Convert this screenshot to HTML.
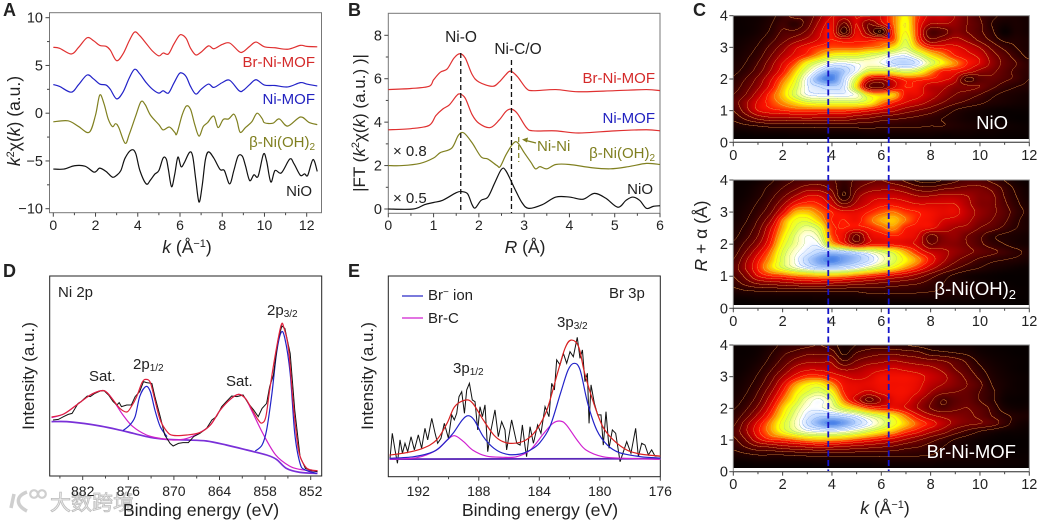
<!DOCTYPE html>
<html><head><meta charset="utf-8"><title>XAFS and XPS characterization figure</title>
<style>
html,body{margin:0;padding:0;background:#fff;width:1039px;height:521px;overflow:hidden}
#stage{position:relative;width:1039px;height:521px;overflow:hidden}
canvas{position:absolute;display:block}
svg{position:absolute;left:0;top:0}
text{font-family:"Liberation Sans","Noto Sans CJK SC",sans-serif;fill:#222}
</style></head>
<body>
<div id="stage">
<canvas id="map-nio" style="left:733px;top:16px;width:296px;height:123px"></canvas>
<canvas id="map-beta" style="left:733px;top:180px;width:296px;height:125px"></canvas>
<canvas id="map-br" style="left:733px;top:345px;width:296px;height:123px"></canvas>
<svg id="chart" width="1039" height="521" viewBox="0 0 1039 521">
<!-- Watermark (under the axes text) -->
<g>
<path d="M14 494 L11 508 M27 492 C16 496 15 505 27 511" fill="none" stroke="#cfcfcf" stroke-width="3.5"/>
<circle cx="34" cy="494" r="3.8" fill="none" stroke="#cfcfcf" stroke-width="2.2"/>
<circle cx="42" cy="494" r="3.8" fill="none" stroke="#cfcfcf" stroke-width="2.2"/>
<text x="50" y="510" font-size="21" stroke="#bdbdbd" stroke-width="0.8" style="fill:#ececec">大数跨境</text>
</g>
<g id="layer"></g>

<g>
<text x="3" y="16" font-size="18" font-weight="bold">A</text>
<text x="348" y="16" font-size="18" font-weight="bold">B</text>
<text x="693" y="16" font-size="18" font-weight="bold">C</text>
<text x="3" y="277" font-size="18" font-weight="bold">D</text>
<text x="348" y="277" font-size="18" font-weight="bold">E</text>
</g>

<!-- Panel A labels -->
<text x="315" y="67" font-size="15" text-anchor="end" style="fill:#d42a2a">Br-Ni-MOF</text>
<text x="315" y="104" font-size="15" text-anchor="end" style="fill:#2222c0">Ni-MOF</text>
<text x="315" y="147" font-size="15" text-anchor="end" style="fill:#7f7f20">β-Ni(OH)<tspan dy="3" font-size="10" style="fill:#7f7f20">2</tspan></text>
<text x="312" y="196" font-size="15" text-anchor="end">NiO</text>
<text x="187" y="253" font-size="17.5" text-anchor="middle"><tspan font-style="italic">k</tspan> (Å<tspan dy="-6" font-size="11">−1</tspan><tspan dy="6">)</tspan></text>
<text transform="translate(20,121) rotate(-90)" font-size="17.5" text-anchor="middle"><tspan font-style="italic">k</tspan><tspan dy="-6" font-size="11">2</tspan><tspan dy="6">χ(</tspan><tspan font-style="italic">k</tspan>) (a.u.)</text>

<!-- Panel B labels -->
<text x="461" y="42" font-size="15.5" text-anchor="middle">Ni-O</text>
<text x="518" y="54" font-size="15.5" text-anchor="middle">Ni-C/O</text>
<text x="655" y="83" font-size="15" text-anchor="end" style="fill:#d42a2a">Br-Ni-MOF</text>
<text x="655" y="123" font-size="15" text-anchor="end" style="fill:#2222c0">Ni-MOF</text>
<text x="655" y="158" font-size="15" text-anchor="end" style="fill:#7f7f20">β-Ni(OH)<tspan dy="3" font-size="10" style="fill:#7f7f20">2</tspan></text>
<text x="653" y="194" font-size="15" text-anchor="end">NiO</text>
<text x="393" y="156" font-size="15">× 0.8</text>
<text x="393" y="203" font-size="15">× 0.5</text>
<text x="537" y="151" font-size="15" style="fill:#7f7f20">Ni-Ni</text>
<line x1="536" y1="143" x2="524" y2="140" stroke="#7f7f20" stroke-width="1.2"/>
<path d="M522 139.5 L528 137.5 L527 142.5 Z" fill="#7f7f20"/>
<text x="525" y="253" font-size="17.5" text-anchor="middle"><tspan font-style="italic">R</tspan> (Å)</text>
<text transform="translate(365,123) rotate(-90)" font-size="17" text-anchor="middle">|FT (<tspan font-style="italic">k</tspan><tspan dy="-6" font-size="11">2</tspan><tspan dy="6">χ(</tspan><tspan font-style="italic">k</tspan>) (a.u.) )|</text>

<!-- Panel C labels -->
<text x="1008" y="129" font-size="18.5" text-anchor="end" style="fill:#fff">NiO</text>
<text x="1016" y="295" font-size="18.5" text-anchor="end" style="fill:#fff">β-Ni(OH)<tspan dy="4" font-size="13" style="fill:#fff">2</tspan></text>
<text x="1016" y="458" font-size="18.5" text-anchor="end" style="fill:#fff">Br-Ni-MOF</text>
<text x="885" y="514" font-size="17.5" text-anchor="middle"><tspan font-style="italic">k</tspan> (Å<tspan dy="-6" font-size="11">−1</tspan><tspan dy="6">)</tspan></text>
<text transform="translate(707,236) rotate(-90)" font-size="17.5" text-anchor="middle"><tspan font-style="italic">R</tspan> + α (Å)</text>

<!-- Panel D labels -->
<text x="58" y="297" font-size="15">Ni 2p</text>
<text x="267" y="315" font-size="15">2p<tspan dy="2" font-size="10">3/2</tspan></text>
<text x="133" y="369" font-size="15">2p<tspan dy="2" font-size="10">1/2</tspan></text>
<text x="89" y="381" font-size="15">Sat.</text>
<text x="226" y="386" font-size="15">Sat.</text>
<text x="201" y="516" font-size="17.7" text-anchor="middle">Binding energy (eV)</text>
<text transform="translate(34,376) rotate(-90)" font-size="17" text-anchor="middle">Intensity (a.u.)</text>

<!-- Panel E labels -->
<line x1="402" y1="296" x2="423" y2="296" stroke="#2a2ac8" stroke-width="1.2"/>
<text x="428" y="300" font-size="15">Br<tspan dy="-5" font-size="10">−</tspan><tspan dy="5"> ion</tspan></text>
<line x1="402" y1="318" x2="423" y2="318" stroke="#d020d0" stroke-width="1.2"/>
<text x="428" y="323" font-size="15">Br-C</text>
<text x="609" y="298" font-size="15">Br 3p</text>
<text x="557" y="327" font-size="15">3p<tspan dy="2" font-size="10">3/2</tspan></text>
<text x="453" y="373" font-size="15">3p<tspan dy="2" font-size="10">1/2</tspan></text>
<text x="540" y="516" font-size="17.7" text-anchor="middle">Binding energy (eV)</text>
<text transform="translate(373,376) rotate(-90)" font-size="17" text-anchor="middle">Intensity (a.u.)</text>
</svg>
</div>

<script>
/* ===== Panel A: k^2 chi(k) ===== */
const aKnotsMof = [0,.3,.85,1.2,1.6,1.9,2.2,2.5,2.7,3,3.3,3.6,3.85,4.1,4.4,4.7,5,5.2,5.45,5.7,5.95,6.1,6.3,6.5,6.75,7,7.35,7.6,8,8.35,8.8,9,9.3,9.6,10,10.5,11.1,11.7,12,12.5];
const aBrNiMof = [6.9,6.8,6.2,6.9,7.9,7.6,7.1,7,6.6,5.5,6.2,7.6,8.5,8.1,7.3,6.5,6,6.3,6.2,7.2,8.1,8.2,7.8,6.8,6.1,6.4,7.05,6.75,7.2,7.35,6.45,6.45,7,7.45,6.95,6.85,6.7,7.1,7,6.95];
const aNiMof = [3,2.8,2.2,3,4,3.6,3.05,2.95,2.5,1.5,2.2,3.7,4.6,4.1,3.2,2.5,2.1,2.35,2.1,3.1,4.1,4.2,3.8,2.8,2,2.5,3.05,2.7,3.2,3.45,2.35,2.4,3,3.5,2.95,2.9,2.75,3.2,3.05,2.85];
const aBetaK = [0,.7,1.2,1.7,2,2.2,2.4,2.6,2.8,2.95,3.1,3.4,3.6,3.9,4.15,4.35,4.6,5,5.2,5.5,5.75,5.85,6.1,6.3,6.5,6.7,6.9,7.1,7.3,7.6,7.8,8.05,8.3,8.55,8.7,8.85,9.1,9.4,9.65,9.9,10,10.4,10.7,11.1,11.7,12.1,12.5];
const aBeta = [-.9,-.8,-1.4,-2,-.2,1.9,1,-.6,-1.4,-1.1,-1.5,-3.15,-2.2,-.3,1.2,.9,-.2,-1.2,-1.75,-1.45,-2,-2.15,-.2,.75,.4,-1.2,-2.4,-1.4,-1,-.3,-1.5,-.65,-.6,-.1,-.8,-2,-1.5,-.9,0,-.6,-1,-1.05,-.6,-1.35,-.4,-.95,-1.2];
const aNioK = [0,.5,1,1.5,1.9,2.05,2.2,2.5,2.8,3,3.2,3.4,3.7,3.9,4.1,4.4,4.6,4.8,5,5.2,5.35,5.45,5.6,5.75,5.9,6.05,6.2,6.45,6.6,6.75,6.9,7.05,7.2,7.35,7.6,7.9,8.1,8.35,8.55,8.75,8.95,9.1,9.3,9.5,9.7,9.95,10.1,10.3,10.5,10.8,11.2,11.4,11.7,11.9,12.05,12.3,12.5];
const aNio = [-5.85,-5.85,-5.5,-5.55,-6.15,-6.05,-5.75,-6.1,-6.7,-6.5,-6,-4.7,-3.85,-4.2,-6,-7.4,-7,-6.4,-6,-4.7,-4.8,-5.9,-7.7,-6.4,-4.6,-5.6,-5.2,-4.1,-4.5,-7,-9.3,-7.6,-4.9,-4.05,-4.7,-5.9,-6,-7.4,-6,-4.5,-4.5,-5.5,-7.05,-6.45,-6.6,-4.3,-5,-7.2,-6,-6.25,-4.8,-5.3,-6.5,-6.35,-6.5,-4.85,-6.1];
const aXTicks = [0,2,4,6,8,10,12];
const aXMinor = [1,3,5,7,9,11];
const aYTicks = [-10,-5,0,5,10];
const aYTickLabels = ['−10','−5','0','5','10'];
const aYMinor = [-7.5,-2.5,2.5,7.5];

/* ===== Panel B: |FT| ===== */
const bBrR = [0,.5,.9,1,1.15,1.3,1.45,1.58,1.7,1.85,2,2.3,2.45,2.6,2.7,2.85,3.05,3.2,3.7,4.2,5,5.7,6];
const bBr = [5.5,5.55,5.65,5.95,6.3,6.45,6.95,7.15,6.95,6.2,5.85,5.65,5.85,6.2,6.35,6.1,5.55,5.45,5.5,5.4,5.45,5.5,5.45];
const bMofR = [0,.5,.9,1.05,1.2,1.35,1.5,1.58,1.7,1.85,2,2.25,2.45,2.6,2.72,2.85,3.05,3.2,3.7,4.2,5,5.7,6];
const bMof = [3.65,3.7,3.85,4.3,4.6,4.8,5.2,5.3,5.1,4.35,3.95,3.75,4.1,4.5,4.6,4.4,3.75,3.6,3.6,3.5,3.6,3.65,3.6];
const bBetaR = [0,.3,.7,1,1.15,1.4,1.55,1.67,1.85,2.05,2.2,2.4,2.47,2.6,2.75,2.85,3,3.15,3.25,3.35,3.5,3.7,4,4.5,4.9,5.3,5.7,6];
const bBeta = [2,2,2.1,2.35,2.6,2.8,3.4,3.5,3.05,2.4,2.3,2,1.95,2.5,3,3.07,2.6,2.15,1.85,1.95,1.85,2.05,2.05,1.9,1.85,1.95,2.1,2.05];
const bNioR = [0,.55,.8,1,1.2,1.5,1.62,1.75,1.85,1.92,2.05,2.2,2.35,2.5,2.6,2.8,2.95,3.1,3.4,3.7,4,4.3,4.55,4.8,5.07,5.25,5.4,5.55,5.7,5.85,6];
const bNio = [0,0,.2,.3,.4,.75,.8,.7,.2,.05,.4,.55,1.2,1.83,1.75,.9,.3,.03,.2,.55,.55,.45,.72,.5,.08,.4,.55,.4,.03,.12,.15];
const bXTicks = [0,1,2,3,4,5,6];
const bXMinor = [.5,1.5,2.5,3.5,4.5,5.5];
const bYTicks = [0,2,4,6,8];
const bYMinor = [1,3,5,7];

/* ===== Panel C: wavelet intensity, rows R = 4 → 0 (step .25), columns k = 0 → 12 (step .5) ===== */
const nioMap = [
[3,4,5,9,16,22,22,34,44,40,44,44,44,56,66,52,42,42,36,28,20,14,10,8,6],
[3,4,6,11,18,14,24,38,46,26,44,28,40,55,68,50,36,36,34,28,22,12,6,8,6],
[3,4,7,13,21,22,30,42,48,16,46,30,12,52,68,50,22,24,32,28,22,14,3,8,6],
[4,6,10,17,25,32,38,45,50,46,49,48,50,54,72,52,30,34,38,34,26,18,10,10,8],
[5,8,13,22,32,42,48,52,54,54,54,56,58,66,76,62,50,48,46,42,36,26,18,12,8],
[6,10,16,27,38,46,52,60,68,70,70,74,78,84,86,78,66,58,50,46,42,32,24,16,10],
[8,12,20,32,44,54,68,78,85,86,84,82,84,90,92,88,76,66,58,50,44,34,26,20,14],
[10,15,24,36,48,62,78,90,96,93,85,72,70,72,76,72,60,50,48,42,34,30,24,18,14],
[13,20,30,42,55,68,86,97,100,90,72,44,38,46,52,52,50,46,40,18,24,26,22,18,12],
[16,24,34,46,60,72,86,90,92,88,66,30,26,42,50,48,40,38,32,30,28,22,16,12,10],
[20,28,40,52,62,74,84,86,86,86,82,66,62,62,48,46,40,34,28,24,20,14,10,8,6],
[24,34,45,52,58,64,70,72,72,72,72,68,58,50,44,40,34,28,22,18,14,10,8,6,5],
[20,32,44,48,50,52,52,52,52,52,50,46,42,38,32,28,24,18,12,8,6,4,3,3,3],
[14,22,30,34,34,35,36,35,34,34,30,28,24,22,20,18,15,12,9,6,5,4,3,2,2],
[8,10,12,14,14,14,14,15,15,15,15,15,14,14,13,13,12,12,10,8,7,6,5,4,3],
[3,3,4,4,4,5,5,5,5,5,5,6,6,6,6,6,6,5,5,5,4,4,3,3,3],
[1,1,1,1,1,1,1,1,1,1,1,1,1,1,1,1,1,1,1,1,1,1,1,1,1]];
const betaMap = [
[3,3,5,10,16,20,22,24,22,16,22,26,28,24,18,10,8,12,18,22,22,18,12,6,3],
[3,4,8,14,20,26,32,32,26,14,26,32,34,34,30,24,22,26,28,30,30,26,18,10,5],
[3,5,10,17,26,36,44,44,34,12,32,40,42,42,40,36,36,38,38,36,32,30,20,12,6],
[4,7,13,21,34,48,52,50,42,28,38,44,48,48,46,44,44,44,44,38,32,30,22,14,8],
[5,9,16,26,44,60,62,56,50,46,46,50,54,56,52,50,48,46,46,40,34,30,24,16,10],
[6,11,20,34,56,68,70,62,50,50,48,54,60,62,56,50,48,44,42,38,32,28,22,14,8],
[8,14,24,42,60,72,78,72,52,50,48,50,54,58,50,48,46,40,36,34,28,24,18,12,8],
[10,17,28,46,64,76,84,78,54,46,26,44,48,50,48,44,26,32,34,28,22,14,10,8,6],
[13,22,34,50,68,78,85,84,62,50,34,46,48,48,46,42,28,32,32,28,22,16,12,8,6],
[16,28,42,56,72,82,88,92,92,90,86,82,76,70,60,50,42,38,34,30,26,22,18,14,10],
[20,34,48,60,74,84,92,97,100,97,94,90,82,74,66,58,48,38,30,24,18,14,12,10,7],
[24,36,50,62,72,80,86,90,90,88,84,78,72,66,58,50,40,30,22,16,12,8,6,4,3],
[20,30,44,50,52,56,58,60,60,58,54,50,46,42,38,32,24,16,10,6,4,3,2,2,2],
[15,22,28,30,32,34,36,36,34,32,30,28,26,24,22,20,16,12,10,8,6,4,3,2,2],
[8,10,11,11,12,12,12,12,12,12,12,14,14,14,14,13,12,11,10,9,7,6,4,3,2],
[3,3,4,4,4,4,4,5,5,5,5,5,6,6,6,6,6,6,5,5,4,4,3,2,2],
[1,1,1,1,1,1,1,1,1,1,1,1,1,1,1,1,1,1,1,1,1,1,1,1,1]];
const brMap = [
[3,3,4,8,14,16,18,20,16,8,12,16,16,14,12,10,8,6,6,6,4,3,2,2,2],
[3,3,5,11,18,22,26,26,24,10,20,24,26,26,24,22,16,14,12,10,6,4,3,2,2],
[3,4,7,14,22,30,34,34,34,20,28,32,34,36,34,32,30,28,24,18,10,6,4,3,2],
[3,5,10,18,28,38,42,42,40,34,36,40,42,44,42,40,38,34,28,22,14,8,5,3,2],
[4,7,13,23,36,46,52,52,48,44,42,44,48,48,48,46,42,38,32,26,18,10,6,4,3],
[5,9,16,28,44,58,66,68,58,48,46,46,48,48,48,46,40,36,32,28,22,12,7,4,3],
[6,11,20,34,50,64,72,76,68,50,46,42,46,48,48,44,36,30,28,26,20,14,6,4,3],
[8,14,24,40,56,68,80,85,76,56,42,26,36,46,46,38,30,20,24,26,20,14,5,3,3],
[11,18,30,46,62,74,84,85,80,70,62,52,48,48,44,36,28,22,26,28,24,18,8,5,5],
[14,24,38,52,66,78,88,92,92,90,86,78,72,66,56,46,38,34,32,30,26,20,14,10,8],
[18,32,46,58,70,80,90,96,100,97,92,86,78,70,62,54,48,40,34,30,28,24,16,8,5],
[22,34,48,58,68,76,82,84,84,82,78,72,66,60,52,46,38,32,24,18,12,8,5,4,3],
[18,28,42,50,52,56,60,62,60,58,54,50,46,42,36,30,24,18,12,8,5,3,2,2,2],
[14,20,26,28,32,34,36,38,36,34,32,30,28,26,22,20,16,12,8,6,4,3,2,2,2],
[8,10,12,12,12,13,14,14,14,14,14,14,14,14,14,13,12,10,9,7,6,5,4,3,3],
[3,3,4,4,4,4,4,5,5,5,5,5,6,6,6,6,6,5,5,5,5,5,4,4,3],
[1,1,1,1,1,1,1,1,1,1,1,1,1,1,1,1,1,1,1,1,1,1,1,1,1]];
const cXTicks = [0,2,4,6,8,10,12];
const cXMinor = [1,3,5,7,9,11];
const cYTicks = [0,1,2,3,4];
const cDashK = [3.85,6.3];
const contourLevels = [12,20,28,36,44,50,56,60,64,68,72,76,80,84,87,90,93,96,98];

/* ===== Panel D: Ni 2p XPS ===== */
const dRawE = [885.9,885.2,884.5,883.9,883.4,883,882.6,882.2,881.9,881.4,881,880.4,879.7,879.2,878.6,878,877.5,877.2,876.9,876.2,875.6,875.1,874.5,874,873.6,872.9,872.5,871.8,871.2,870.5,870.1,869.4,868.8,868.1,867.4,866.6,865.7,865,864.4,863.7,863.1,862.4,861.7,860.9,860.2,859.5,858.9,858.4,857.8,857.4,856.9,856.3,855.8,855.4,854.7,854.1,853.4,852.7,851.9,851.1];
const dRaw = [28,28.3,29.7,30.8,31.3,33.8,36.3,37.2,38.3,40,39.7,41.3,42.5,42.7,40.5,37.2,35.5,36.7,34.7,35.5,35.5,39.7,42.2,47.2,46.7,46.3,39.7,29.7,20.5,16.3,15,16.3,16.7,16.7,19.7,21.3,23.8,28,29.7,34.7,37.2,40,39.7,40.5,36.3,33,29.7,33.8,36.3,44.7,50.5,68,75,73.8,61.3,33,9.7,3.8,2.7,2.2];
const dFitE = [886.1,884.5,882.8,881,879.5,878.8,878,877.1,876.2,875.6,874.9,874.2,873.7,873.1,872.5,871.8,870.9,870.1,868.3,866.6,865.2,863.9,862.6,861.5,860.6,859.8,858.9,858.4,857.9,857.4,856.7,855.9,855.5,854.9,854.3,853.6,852.7,851.9,851.1];
const dFit = [29.5,31,35.5,40.5,42.7,41.7,38,33.8,32,34.7,39.7,46.7,48.3,46.7,38,28,22.2,20.3,20.5,21.7,25.5,33,38.3,40.8,38.8,33.8,28,26.5,29.7,43,59.7,75.3,73.8,63,36.3,13,4.7,3,2.7];
const dSatE = [886.1,884.5,882.8,881,879.5,878.8,878,876.7,875.4,873.6,871.8,870.1,868.3,866.6,865.2,863.9,862.6,861.5,860.6,859.8,858.3,856.6,854.8,853.4,851.1];
const dSat = [29.2,31,35.5,40.5,42.7,41.7,38,30.5,24.7,20.5,18.8,18,18.8,21.7,25.5,33,38.3,40.8,38.8,33,21.3,10.5,5,3.3,2.2];
const dBgE = [886.1,884.1,881.9,879.7,877.5,875.3,873.1,870.9,868.3,865.7,863.1,860.4,857.8,856.5,855.2,853.4,851.1];
const dBg = [27.2,27.2,26.3,25,23.3,21.3,19.3,18.3,18,17.5,15.5,13,10.5,8.3,3.8,1.8,1.3];
const dPeak1E = [876.7,875.8,875.1,874.5,873.7,873.1,872.5,871.8,870.9];
const dPeak1 = [22.7,25.5,29.7,39.7,44.7,42.2,33,24.7,19.7];
const dPeak2E = [859.3,858.4,857.8,857.1,856.5,855.9,855.4,854.7,854.1,853.4,852.7,851.2];
const dPeak2 = [12.5,15.5,23,41.3,61.3,71.7,68.8,51.3,21.3,6.3,3,1.3];
const dXTicks = [882,876,870,864,858,852];
const dXMinor = [885,879,873,867,861,855];

/* ===== Panel E: Br 3p XPS ===== */
const eRawE = [193.87,193.72,193.54,193.38,193.21,193.05,192.88,192.7,192.48,192.26,192,191.78,191.56,191.38,191.11,190.89,190.72,190.5,190.28,190.01,189.79,189.62,189.46,189.31,189.13,188.95,188.8,188.62,188.43,188.25,188.07,187.92,187.76,187.59,187.41,187.19,186.93,186.71,186.49,186.27,186.16,185.83,185.49,185.27,185.12,184.94,184.84,184.61,184.39,184.11,183.89,183.62,183.36,183.18,183,182.85,182.63,182.41,182.19,181.97,181.75,181.49,181.31,181.15,180.98,180.82,180.71,180.58,180.36,180.14,179.92,179.77,179.59,179.39,179.17,178.95,178.66,178.22,177.94,177.63,177.45,177.23,177.01,176.79,176.57,176.35,176.02];
const eRaw = [9.2,21.7,13.4,6.7,18.4,11.7,16.7,12.5,20,13.4,20.9,14.2,24.2,18.4,29.2,21.7,16.7,19.2,26.7,19.2,30.9,28.4,31.7,40,42.5,31.7,43.4,46.7,38.4,37.5,23.4,35,30,35.9,12.5,23.4,33.4,20,27.5,23.4,13.4,28.4,16.7,15.8,25.9,15,10,25,16.7,25.9,21.7,35,30,46.7,43.4,58.4,55.9,61.7,56.7,62.5,60,69.7,59.2,63.4,47.5,51.7,26.7,45.9,36.7,30.9,30.9,15.8,32.5,14.2,23.4,21.7,7.5,17.5,11.7,24.2,10,16.7,15.8,10.9,13.4,10.3,10.3];
const eFitE = [193.9,192.8,191.7,190.8,190.1,189.6,188.9,188.4,187.7,187,186.4,185.7,184.9,184.2,183.5,182.8,182.3,181.9,181.4,181,180.4,179.8,179.1,178.2,177.3,176];
const eFit = [10.8,12,14.2,18.3,26.7,35,38.3,36.7,28.3,20.8,17.5,16.7,18.3,23.3,33.3,51.7,64.2,68.3,65,51.7,36.7,25,18.3,13.3,11.3,10.3];
const eIonE = [193.9,192.3,191,190.3,189.7,189.1,188.7,188.3,187.7,187,186.2,185.3,184.6,184,183.3,182.6,182.1,181.7,181.3,180.8,180.2,179.5,178.7,177.3,176];
const eIon = [9.2,10,12.5,16.7,21.7,28.3,30.5,28.3,20,14.2,11.3,11.3,13.3,16.7,25,41.7,53.3,56.7,53.3,36.7,23.3,15.8,12,10,9.3];
const eCE = [193.9,192.1,190.8,190.1,189.6,189,188.4,187.5,186.4,185.5,184.6,183.7,183.1,182.6,182.2,181.5,180.9,179.8,178.4,176];
const eC = [8.8,9.5,13.3,18.3,20.5,17.5,13.3,10.3,9.7,10,13.3,21.7,26.7,27.8,25.8,18.3,13.3,10,9.2,8.7];
const eBgE = [193.9,176];
const eBg = [8.8,9];
const eXTicks = [192,188,184,180,176];
const eXMinor = [190,186,182,178];

/* ===== helpers ===== */
const NS = 'http://www.w3.org/2000/svg';
const layer = document.getElementById('layer');
function mk(tag, attrs, name, parent) {
  const el = document.createElementNS(NS, tag);
  for (const key in attrs) el.setAttribute(key, attrs[key]);
  
  
  (parent || layer).appendChild(el);
  return el;
}
function linear(d0, d1, r0, r1) { return v => r0 + (v - d0) * (r1 - r0) / (d1 - d0); }
function smoothPath(xs, ys, sx, sy) {
  const p = xs.map((x, i) => [sx(x), sy(ys[i])]);
  let d = 'M' + p[0][0].toFixed(2) + ' ' + p[0][1].toFixed(2);
  for (let i = 0; i < p.length - 1; i++) {
    const a = p[Math.max(i - 1, 0)], b = p[i], c = p[i + 1], e = p[Math.min(i + 2, p.length - 1)];
    const c1 = [b[0] + (c[0] - a[0]) / 6, b[1] + (c[1] - a[1]) / 6];
    const c2 = [c[0] - (e[0] - b[0]) / 6, c[1] - (e[1] - b[1]) / 6];
    d += 'C' + c1[0].toFixed(2) + ' ' + c1[1].toFixed(2) + ' ' + c2[0].toFixed(2) + ' ' + c2[1].toFixed(2) + ' ' + c[0].toFixed(2) + ' ' + c[1].toFixed(2);
  }
  return d;
}
function rawPath(xs, ys, sx, sy) {
  return xs.map((x, i) => (i ? 'L' : 'M') + sx(x).toFixed(2) + ' ' + sy(ys[i]).toFixed(2)).join('');
}
function curve(xs, ys, sx, sy, color, width, name) {
  mk('path', {d: smoothPath(xs, ys, sx, sy), fill: 'none', stroke: color, 'stroke-width': width, 'stroke-linejoin': 'round'}, name);
}
function axisX(ticks, labels, minor, sx, yAxis, labelY, prefix, fs) {
  ticks.forEach((t, i) => {
    mk('line', {x1: sx(t), x2: sx(t), y1: yAxis, y2: yAxis + 4, stroke: '#444', 'stroke-width': 1}, prefix + '-x-tick');
    const tx = mk('text', {x: sx(t), y: labelY, 'font-size': fs || 14, 'text-anchor': 'middle'}, prefix + '-x-tick-label');
    tx.textContent = labels ? labels[i] : t;
  });
  minor.forEach(t => {
    mk('line', {x1: sx(t), x2: sx(t), y1: yAxis, y2: yAxis + 2.5, stroke: '#444', 'stroke-width': 1}, prefix + '-x-minor-tick');
  });
}
function axisY(ticks, labels, minor, sy, xAxis, labelX, prefix, fs) {
  ticks.forEach((t, i) => {
    mk('line', {x1: xAxis - 4, x2: xAxis, y1: sy(t), y2: sy(t), stroke: '#444', 'stroke-width': 1}, prefix + '-y-tick');
    const tx = mk('text', {x: labelX, y: sy(t) + 5, 'font-size': fs || 14, 'text-anchor': 'end'}, prefix + '-y-tick-label');
    tx.textContent = labels ? labels[i] : t;
  });
  minor.forEach(t => {
    mk('line', {x1: xAxis - 2.5, x2: xAxis, y1: sy(t), y2: sy(t), stroke: '#444', 'stroke-width': 1}, prefix + '-y-minor-tick');
  });
}
function box(x0, y0, x1, y1, name, color) {
  mk('rect', {x: x0, y: y0, width: x1 - x0, height: y1 - y0, fill: 'none', stroke: color || '#555', 'stroke-width': 1}, name);
}

/* ===== panel A ===== */
const ax = linear(0, 12, 53.3, 306.7), ay = linear(-10, 10, 208.7, 17.7);
box(49.5, 12.7, 321.5, 212.7, 'a-plot-frame', '#777');
axisX(aXTicks, null, aXMinor, ax, 212.7, 230, 'a');
axisY(aYTicks, aYTickLabels, aYMinor, ay, 49.5, 43, 'a', 14.5);
curve(aKnotsMof, aBrNiMof, ax, ay, '#e03030', 1.2, 'a-line-br-ni-mof');
curve(aKnotsMof, aNiMof, ax, ay, '#2222c8', 1.2, 'a-line-ni-mof');
curve(aBetaK, aBeta, ax, ay, '#808020', 1.2, 'a-line-beta-ni-oh2');
curve(aNioK, aNio, ax, ay, '#111', 1.2, 'a-line-nio');

/* ===== panel B ===== */
const bx = linear(0, 6, 388.3, 660), by = linear(0, 8, 209, 35.3);
box(388.3, 13.3, 660, 213.3, 'b-plot-frame', '#777');
axisX(bXTicks, null, bXMinor, bx, 213.3, 230, 'b');
axisY(bYTicks, null, bYMinor, by, 388.3, 382, 'b', 14.5);
curve(bBrR, bBr, bx, by, '#e03030', 1.2, 'b-line-br-ni-mof');
curve(bMofR, bMof, bx, by, '#e03030', 1.2, 'b-line-ni-mof');
curve(bBetaR, bBeta, bx, by, '#808020', 1.2, 'b-line-beta-ni-oh2');
curve(bNioR, bNio, bx, by, '#111', 1.2, 'b-line-nio');
mk('line', {x1: bx(1.6), x2: bx(1.6), y1: 53, y2: 213, stroke: '#111', 'stroke-width': 1.3, 'stroke-dasharray': '5 3'}, 'b-ni-o-dash');
mk('line', {x1: bx(2.72), x2: bx(2.72), y1: 60, y2: 213, stroke: '#111', 'stroke-width': 1.3, 'stroke-dasharray': '5 3'}, 'b-ni-c-o-dash');
mk('line', {x1: bx(2.88), x2: bx(2.88), y1: 137, y2: 162, stroke: '#808020', 'stroke-width': 1.2, 'stroke-dasharray': '5 3'}, 'b-ni-ni-dash');

/* ===== panel C ===== */
const colorStops = [[0,0,0,0],[15,48,0,0],[30,120,0,0],[42,204,0,0],[50,255,20,0],[58,255,138,0],[66,255,255,0],[74,224,255,80],[80,255,255,176],[85,255,255,255],[92,192,216,255],[100,74,130,232]];
const levelBand = new Uint8Array(1002);
for (let i = 0; i <= 1001; i++) levelBand[i] = contourLevels.filter(l => l * 10 <= i).length;
function cmap(v) {
  for (let i = 1; i < colorStops.length; i++) {
    if (v <= colorStops[i][0]) {
      const a = colorStops[i - 1], b = colorStops[i], t = (v - a[0]) / (b[0] - a[0]);
      return [a[1] + (b[1] - a[1]) * t, a[2] + (b[2] - a[2]) * t, a[3] + (b[3] - a[3]) * t];
    }
  }
  return colorStops[colorStops.length - 1].slice(1);
}
function cr(p0, p1, p2, p3, t) {
  return 0.5 * (2 * p1 + (p2 - p0) * t + (2 * p0 - 5 * p1 + 4 * p2 - p3) * t * t + (3 * p1 - p0 - 3 * p2 + p3) * t * t * t);
}
function sample(grid, k, R) {
  const u = Math.min(k / 0.5, 23.9999), w = Math.min((4 - R) / 0.25, 15.9999);
  const i = Math.floor(u), j = Math.floor(w), fu = u - i, fw = w - j;
  const rows = [];
  for (let m = -1; m <= 2; m++) {
    const row = grid[Math.max(0, Math.min(16, j + m))];
    const g = n => row[Math.max(0, Math.min(24, n))];
    rows.push(cr(g(i - 1), g(i), g(i + 1), g(i + 2), fu));
  }
  return Math.max(0, Math.min(100, cr(rows[0], rows[1], rows[2], rows[3], fw)));
}
function paintMap(id, grid) {
  const cv = document.getElementById(id), W = 592, H = parseInt(cv.style.height) * 2;
  cv.width = W; cv.height = H;
  const ctx = cv.getContext('2d'), img = ctx.createImageData(W, H), f = new Float32Array(W * H);
  for (let y = 0; y < H; y++) for (let x = 0; x < W; x++) {
    f[y * W + x] = sample(grid, x / (W - 1) * 12, 4 - y / (H - 1) * 3.9);
  }
  const band = v => levelBand[Math.round(v * 10)];
  for (let y = 0; y < H; y++) for (let x = 0; x < W; x++) {
    const v = f[y * W + x]; let c = cmap(v);
    const b = band(v);
    const isLine = (x < W - 1 && band(f[y * W + x + 1]) !== b) || (y < H - 1 && band(f[(y + 1) * W + x]) !== b);
    if (isLine) {
      const lc = v < 55 ? [240, 150, 60] : v < 70 ? [235, 190, 60] : v < 84 ? [170, 215, 120] : [125, 170, 240];
      c = [c[0] * .3 + lc[0] * .7, c[1] * .3 + lc[1] * .7, c[2] * .3 + lc[2] * .7];
    }
    const o = (y * W + x) * 4;
    img.data[o] = c[0]; img.data[o + 1] = c[1]; img.data[o + 2] = c[2]; img.data[o + 3] = 255;
  }
  ctx.putImageData(img, 0, 0);
}
paintMap('map-nio', nioMap);
paintMap('map-beta', betaMap);
paintMap('map-br', brMap);
const cx = linear(0, 12, 733.3, 1029.3);
[[15.7, 142.3, 160, 'c-nio'], [180, 308.3, 326, 'c-beta'], [345, 471.7, 489, 'c-br']].forEach(p => {
  const sy = linear(0, 4, p[1], p[0]);
  mk('rect', {x: 733.3, y: p[0], width: 296, height: p[1] - p[0], fill: 'none', stroke: '#888', 'stroke-width': 1}, p[3] + '-frame');
  mk('line', {x1: 733.3, x2: 1029.3, y1: p[1], y2: p[1], stroke: '#444', 'stroke-width': 1}, p[3] + '-x-axis');
  axisX(cXTicks, null, cXMinor, cx, p[1], p[2], p[3], 14.5);
  axisY(cYTicks, null, [], sy, 733.3, 728, p[3], 14.5);
});
cDashK.forEach(k => {
  mk('line', {x1: cx(k), x2: cx(k), y1: 23, y2: 471, stroke: '#1414c8', 'stroke-width': 1.8, 'stroke-dasharray': '6 3.5'}, 'c-k-dash-line');
});

/* ===== panel D ===== */
const dx = linear(882, 852, 82.7, 310.7), dy = linear(0, 100, 476, 276);
box(49.7, 276, 321.7, 476, 'd-plot-frame', '#222');
axisX(dXTicks, null, dXMinor, dx, 476, 496, 'd');
curve(dBgE, dBg, dx, dy, '#7a30d8', 1.7, 'd-background-line');
curve(dSatE, dSat, dx, dy, '#d020c8', 1.2, 'd-satellite-line');
curve(dPeak1E, dPeak1, dx, dy, '#2222c8', 1.2, 'd-peak-2p-1-2');
curve(dPeak2E, dPeak2, dx, dy, '#2222c8', 1.2, 'd-peak-2p-3-2');
mk('path', {d: rawPath(dRawE, dRaw, dx, dy), fill: 'none', stroke: '#111', 'stroke-width': 1}, 'd-raw-spectrum');
curve(dFitE, dFit, dx, dy, '#e0203c', 1.2, 'd-fit-envelope');

/* ===== panel E ===== */
const ex = linear(192, 176, 418.3, 660.3), ey = linear(0, 100, 476.7, 276.7);
box(388.3, 276, 660.3, 476.7, 'e-plot-frame', '#222');
axisX(eXTicks, null, eXMinor, ex, 476.7, 496, 'e');
mk('path', {d: rawPath(eRawE, eRaw, ex, ey), fill: 'none', stroke: '#111', 'stroke-width': 1}, 'e-raw-spectrum');
curve(eBgE, eBg, ex, ey, '#5a28b8', 1.8, 'e-background-line');
curve(eCE, eC, ex, ey, '#d020d0', 1.2, 'e-br-c-line');
curve(eIonE, eIon, ex, ey, '#2222c8', 1.2, 'e-br-ion-line');
curve(eFitE, eFit, ex, ey, '#d82020', 1.2, 'e-fit-envelope');
</script>
</body></html>
